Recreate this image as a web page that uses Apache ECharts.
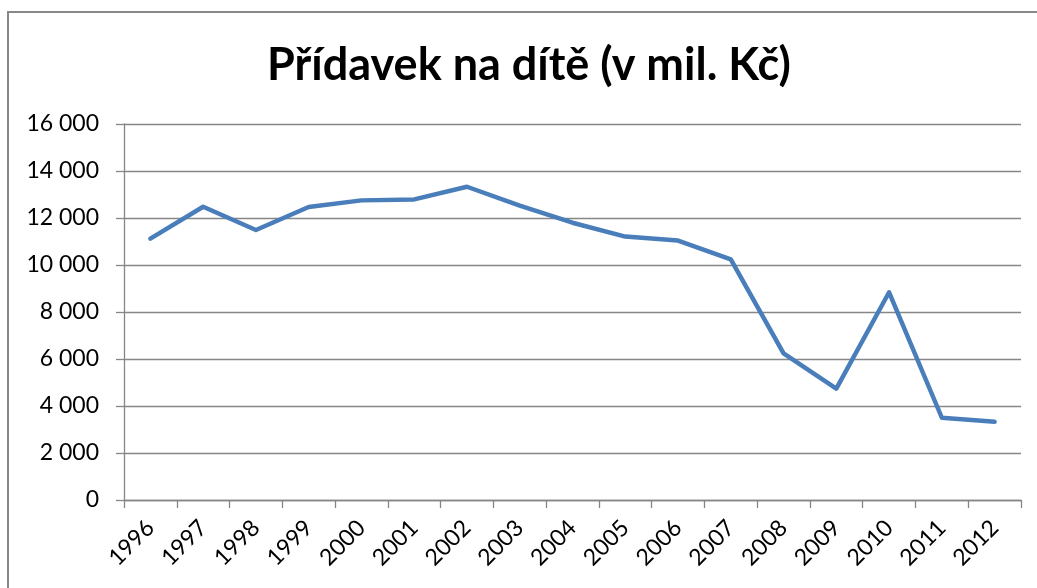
<!DOCTYPE html>
<html>
<head>
<meta charset="utf-8">
<script src="https://cdn.jsdelivr.net/npm/echarts@6/dist/echarts.min.js"></script>
<style>
  html, body { margin: 0; padding: 0; background: #fff; }
  #chart { width: 1037px; height: 588px; }
</style>
</head>
<body>
<div id="chart"></div>
<script>
// roky
var years = ['1996', '1997', '1998', '1999', '2000', '2001', '2002', '2003', '2004',
             '2005', '2006', '2007', '2008', '2009', '2010', '2011', '2012'];
// přídavek na dítě, mil. Kč
var pridavek = [11120, 12480, 11490, 12470, 12750, 12790, 13330, 12530, 11800,
                11210, 11040, 10240, 6240, 4740, 8840, 3500, 3330];
var yTicks = [0, 2000, 4000, 6000, 8000, 10000, 12000, 14000, 16000];

var fmt = function (v) {
    return String(v).replace(/\B(?=(\d{3})+(?!\d))/g, ' ');
};

var myChart = echarts.init(document.getElementById('chart'));
var option = {
    animation: false,
    backgroundColor: '#fff',
    textStyle: { fontFamily: 'Lato' },
    title: {
        text: 'Přídavek na dítě (v mil. Kč)',
        left: 262,
        top: 38,
        textStyle: { fontFamily: 'Lato', fontWeight: 'bold', fontSize: 45, color: '#000' }
    },
    graphic: [{
        type: 'rect',
        shape: { x: 8, y: 12, width: 1040, height: 600 },
        style: { fill: 'none', stroke: '#888', lineWidth: 2 },
        silent: true
    }],
    grid: { left: 124, right: 16, top: 124, bottom: 88, containLabel: false },
    xAxis: {
        type: 'category',
        data: years,
        boundaryGap: true,
        axisLine: { lineStyle: { color: '#868686', width: 1.3 } },
        axisTick: { show: true, length: 8, lineStyle: { color: '#868686', width: 1.3 } },
        axisLabel: { rotate: 45, fontSize: 23, color: '#000', margin: 24, interval: 0 }
    },
    yAxis: {
        type: 'value',
        min: yTicks[0],
        max: yTicks[yTicks.length - 1],
        interval: 2000,
        axisLine: { show: true, lineStyle: { color: '#868686', width: 1.3 } },
        axisTick: { show: true, length: 8, lineStyle: { color: '#868686', width: 1.3 } },
        axisLabel: { fontSize: 23, color: '#000', margin: 25, formatter: fmt },
        splitLine: { lineStyle: { color: '#868686', width: 1.3 } }
    },
    series: [{
        name: 'Přídavek na dítě',
        type: 'line',
        data: pridavek,
        symbol: 'none',
        lineStyle: { color: '#4a7ebb', width: 4.5, cap: 'round', join: 'round' }
    }]
};
myChart.setOption(option);
</script>
</body>
</html>
